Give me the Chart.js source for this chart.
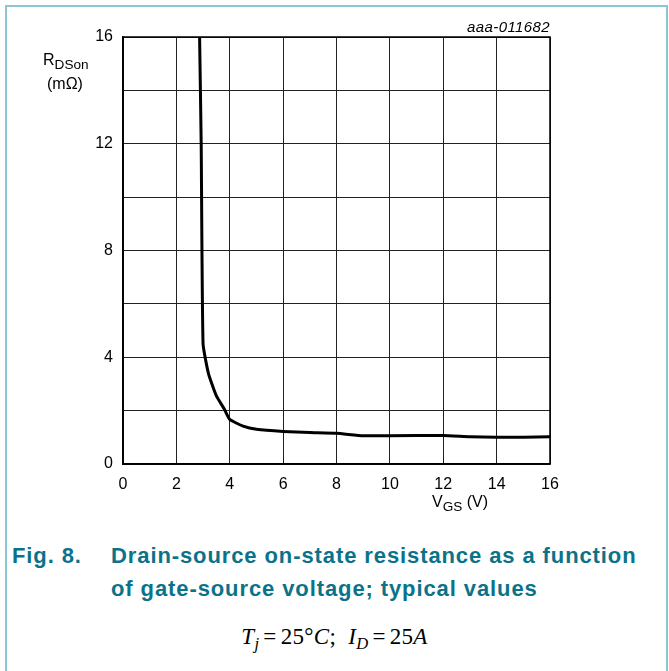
<!DOCTYPE html>
<html>
<head>
<meta charset="utf-8">
<script src="https://cdn.jsdelivr.net/npm/chart.js@4/dist/chart.umd.min.js"></script>
<style>
  html, body { margin:0; padding:0; background:#fff; }
  body { width:669px; height:671px; position:relative; overflow:hidden; font-family:"Liberation Sans", Arial, sans-serif; }
  .frame { position:absolute; left:5px; top:5px; width:659px; height:700px; border:2px solid #8ac6d4; border-bottom:none; }
  .wrap { position:absolute; left:0; top:0; width:669px; height:520px; }
  .lbl { position:absolute; color:#000; font-size:16px; white-space:nowrap; line-height:18px; }
  .lbl sub { font-size:0.85em; vertical-align:-0.3em; }
  .code { position:absolute; right:119px; top:18px; font-size:15px; font-style:italic; letter-spacing:0.4px; }
  .title { position:absolute; left:12px; top:539px; color:#0b7389; font-weight:bold; font-size:22px; line-height:33px; letter-spacing:0.9px; white-space:nowrap; }
  .title .num { position:absolute; left:0; top:0; }
  .title .txt { position:absolute; left:99px; top:0; }
  .cond { position:absolute; left:0; width:669px; top:624px; text-align:center; font-family:"Liberation Serif", "Times New Roman", serif; font-size:23px; letter-spacing:0.3px; white-space:nowrap; }
  .cond sub { font-size:0.72em; vertical-align:-0.3em; }
  .eq { padding:0 4px; }
</style>
</head>
<body>
<div class="frame"></div>
<div class="wrap"><canvas id="chart"></canvas></div>
<div class="lbl" style="left:43px; top:51px;">R<sub>DSon</sub></div>
<div class="lbl" style="left:47px; top:75px;">(mΩ)</div>
<div class="lbl" style="left:432px; top:493px;">V<sub>GS</sub> (V)</div>
<div class="code">aaa-011682</div>
<div class="title"><span class="num">Fig. 8.</span><span class="txt">Drain-source on-state resistance as a function<br>of gate-source voltage; typical values</span></div>
<div class="cond"><i>T</i><sub><i>j</i></sub><span class="eq">=</span>25°<i>C</i>;&nbsp; <i>I</i><sub><i>D</i></sub><span class="eq">=</span>25<i>A</i></div>
<script>
// curve (VGS in V, RDSon in mOhm)
const vgs  = [2.87, 2.93, 3.0, 3.2, 3.5, 3.8, 4.0, 4.5, 5.0, 6.0, 7.0, 8.0, 9.0, 10.0, 12.0, 13.0, 14.0, 15.0, 16.0];
const rdson = [16, 12, 4.5, 3.4, 2.55, 2.05, 1.67, 1.42, 1.3, 1.22, 1.18, 1.15, 1.06, 1.06, 1.07, 1.02, 1.0, 1.0, 1.02];
const xTicks = [0, 2, 4, 6, 8, 10, 12, 14, 16];
const yGrid = [0, 2, 4, 6, 8, 10, 12, 14, 16];
const yLabels = [0, 4, 8, 12, 16];

const points = vgs.map((v, i) => ({ x: v, y: rdson[i] }));

new Chart(document.getElementById('chart'), {
  type: 'scatter',
  data: {
    datasets: [{
      data: points,
      showLine: true,
      borderColor: '#000',
      borderWidth: 3,
      pointRadius: 0,
      tension: 0.15,
      fill: false
    }]
  },
  options: {
    responsive: true,
    maintainAspectRatio: false,
    animation: false,
    layout: { padding: { left: 0, top: 37, right: 119, bottom: 0 } },
    plugins: { legend: { display: false }, tooltip: { enabled: false } },
    scales: {
      x: {
        type: 'linear', min: 0, max: 16,
        afterBuildTicks: s => { s.ticks = xTicks.map(v => ({ value: v })); },
        afterFit: s => { s.height = 56; },
        grid: { color: '#222', lineWidth: 1, drawTicks: false },
        border: { color: '#000', width: 1.5 },
        ticks: { color: '#000', font: { family: 'Liberation Sans', size: 16 }, padding: 11, maxRotation: 0 }
      },
      y: {
        type: 'linear', min: 0, max: 16,
        afterBuildTicks: s => { s.ticks = yGrid.map(v => ({ value: v })); },
        afterFit: s => { s.width = 123; },
        grid: { color: '#222', lineWidth: 1, drawTicks: false },
        border: { color: '#000', width: 1.5 },
        ticks: {
          color: '#000', font: { family: 'Liberation Sans', size: 16 }, padding: 10,
          callback: v => yLabels.includes(v) ? v : ''
        }
      }
    }
  },
  plugins: [{
    id: 'frameBox',
    afterDraw(chart) {
      const { ctx, chartArea: a } = chart;
      ctx.save();
      ctx.strokeStyle = '#000';
      ctx.lineWidth = 1.5;
      ctx.strokeRect(a.left, a.top, a.right - a.left, a.bottom - a.top);
      ctx.restore();
    }
  }]
});
</script>
</body>
</html>
